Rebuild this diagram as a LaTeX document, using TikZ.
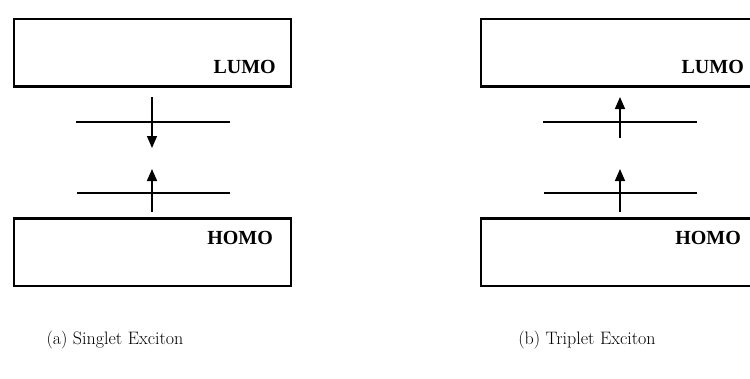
\documentclass[tikz,border=0pt]{standalone}
\usepackage{fontspec}
\newfontfamily\bandfont{Liberation Serif}
\usetikzlibrary{arrows.meta}
\tikzset{
  x=1pt, y=-1pt,
  band/.style={draw, line width=1.8pt, rectangle, minimum width=277pt, minimum height=67pt, inner sep=0pt, anchor=north west},
  bandedge/.style={line width=3pt},
  bandlabel/.style={font=\bandfont\bfseries\fontsize{20}{22}\selectfont, inner sep=0pt, anchor=base east},
  level/.style={line width=1.5pt},
  spin/.style={line width=1.5pt, -{Triangle[width=10pt,length=12pt]}},
  caption/.style={font=\fontsize{18}{21}\selectfont, inner sep=0pt}
}
\begin{document}
\begin{tikzpicture}
\useasboundingbox (0,0) rectangle (750,378);
\clip (0,0) rectangle (750,378);

% ---- (a) singlet exciton ----
\node[band] (lumoA) at (13,18) {};
\draw[bandedge] (lumoA.south west) -- (lumoA.south east);
\node[bandlabel] (lumoAtxt) at (276,73) {LUMO};
\node[band] (homoA) at (13,218) {};
\draw[bandedge] (homoA.north west) -- (homoA.north east);
\node[bandlabel] (homoAtxt) at (273,244) {HOMO};

\coordinate (a1l) at (76,122);  \coordinate (a1r) at (230,122);
\coordinate (a2l) at (77,193);  \coordinate (a2r) at (230,193);
\draw[level] (a1l) -- (a1r);
\draw[level] (a2l) -- (a2r);
\coordinate (aDs) at (152,97);  \coordinate (aDe) at (152,148);
\coordinate (aUs) at (152,212); \coordinate (aUe) at (152,169);
\draw[spin] (aDs) -- (aDe);
\draw[spin] (aUs) -- (aUe);

\node[caption] (capA) at (115,340) {(a) Singlet Exciton};

% ---- (b) triplet exciton ----
\node[band] (lumoB) at (480,18) {};
\draw[bandedge] (lumoB.south west) -- (lumoB.south east);
\node[bandlabel] (lumoBtxt) at (744,73) {LUMO};
\node[band] (homoB) at (480,218) {};
\draw[bandedge] (homoB.north west) -- (homoB.north east);
\node[bandlabel] (homoBtxt) at (741,244) {HOMO};

\coordinate (b1l) at (543,122); \coordinate (b1r) at (697,122);
\coordinate (b2l) at (544,193); \coordinate (b2r) at (697,193);
\draw[level] (b1l) -- (b1r);
\draw[level] (b2l) -- (b2r);
\coordinate (bUs1) at (620,138); \coordinate (bUe1) at (620,97);
\coordinate (bUs2) at (620,212); \coordinate (bUe2) at (620,169);
\draw[spin] (bUs1) -- (bUe1);
\draw[spin] (bUs2) -- (bUe2);

\node[caption] (capB) at (587,340) {(b) Triplet Exciton};
\end{tikzpicture}
\end{document}
